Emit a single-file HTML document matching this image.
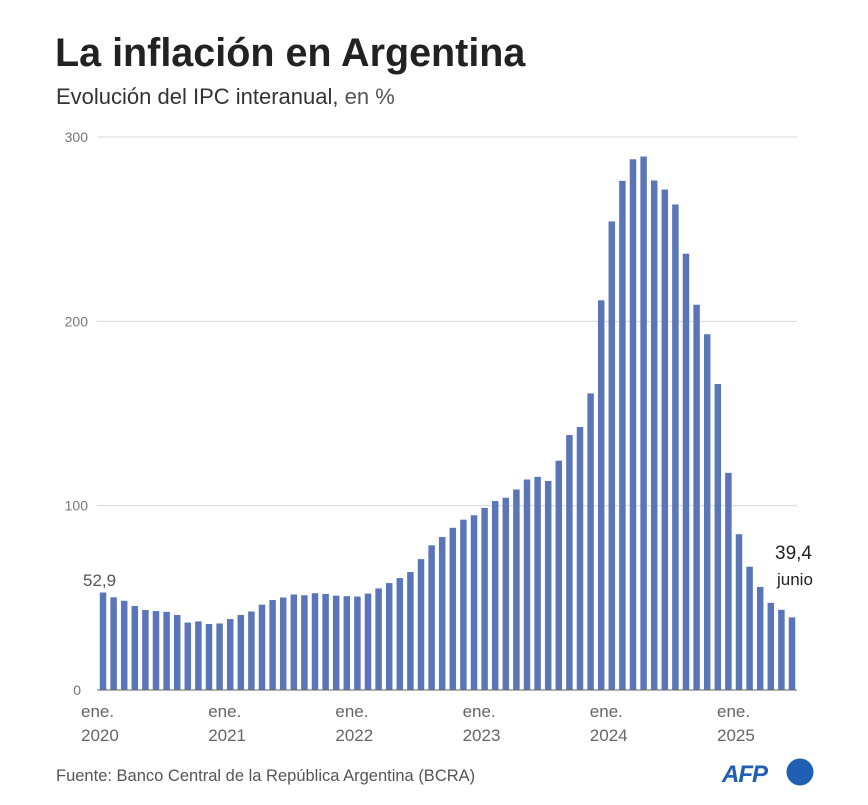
<!DOCTYPE html>
<html><head><meta charset="utf-8">
<style>
body{margin:0;background:#fff;width:868px;height:800px;overflow:hidden;font-family:"Liberation Sans",sans-serif}
</style></head>
<body>
<svg width="868" height="800">
<text x="55" y="66" font-size="39.5" font-weight="bold" fill="#222">La inflación en Argentina</text>
<text x="56" y="104" font-size="22" fill="#333">Evolución del IPC interanual, <tspan fill="#555">en %</tspan></text>
<g id="grid"></g>
<g id="bars"></g>
<g id="xlabels"></g>
<text x="83" y="586" font-size="17" fill="#555">52,9</text>
<text x="775" y="559" font-size="19" fill="#222">39,4</text>
<text x="777" y="585" font-size="17" fill="#222">junio</text>
<text x="56" y="781" font-size="16.5" fill="#555">Fuente: Banco Central de la República Argentina (BCRA)</text>
<g>
<text x="722" y="782" font-size="24" font-weight="bold" font-style="italic" fill="#1f5fb3" letter-spacing="-1">AFP</text>
<circle cx="800" cy="772" r="13.5" fill="#1f5fb3"/>
</g>
</svg>
<script>
const values=[52.9,50.3,48.4,45.6,43.4,42.8,42.4,40.7,36.6,37.2,35.8,36.1,
38.5,40.7,42.6,46.3,48.8,50.2,51.8,51.4,52.5,52.1,51.2,50.9,
50.7,52.3,55.1,58.0,60.7,64.0,71.0,78.5,83.0,88.0,92.4,94.8,
98.8,102.5,104.3,108.8,114.2,115.6,113.4,124.4,138.3,142.7,160.9,211.4,
254.2,276.2,287.9,289.4,276.4,271.5,263.4,236.7,209.0,193.0,166.0,117.8,
84.5,66.9,55.9,47.3,43.5,39.4];
const yTicks=[0,100,200,300];
const xLabels=["2020","2021","2022","2023","2024","2025"];
const NS="http://www.w3.org/2000/svg";
const y0=690,yTop=137,x0=103,step=10.6,bw=6.5;
const y=v=>y0-(y0-yTop)*v/300;
const x=i=>x0+i*step;
const grid=document.getElementById('grid'),bars=document.getElementById('bars'),xl=document.getElementById('xlabels');
yTicks.forEach(t=>{
 if(t>0){const l=document.createElementNS(NS,'line');
 l.setAttribute('x1',97);l.setAttribute('x2',797);l.setAttribute('y1',y(t));l.setAttribute('y2',y(t));
 l.setAttribute('stroke','#d8d8d8');l.setAttribute('stroke-width','1');
 
 
 grid.appendChild(l);}
 const tx=document.createElementNS(NS,'text');
 tx.setAttribute('x',t===0?81:88);tx.setAttribute('y',y(t)+5);tx.setAttribute('text-anchor','end');
 tx.setAttribute('font-size','14');tx.setAttribute('fill','#777');tx.textContent=t;
 
 
 grid.appendChild(tx);
});
values.forEach((v,i)=>{
 const r=document.createElementNS(NS,'rect');
 r.setAttribute('x',x(i)-bw/2);r.setAttribute('y',y(v));r.setAttribute('width',bw);r.setAttribute('height',y0-y(v));
 r.setAttribute('fill','#5b76b8');
 
 
 bars.appendChild(r);
});
const base=document.createElementNS(NS,'line');
base.setAttribute('x1',97);base.setAttribute('x2',797);base.setAttribute('y1',y0);base.setAttribute('y2',y0);
base.setAttribute('stroke','#666');base.setAttribute('stroke-width','1');


bars.appendChild(base);
xLabels.forEach((lab,k)=>{
 const cx=x(k*12);
 const t=document.createElementNS(NS,'text');
 t.setAttribute('x',cx-22);t.setAttribute('y',717);t.setAttribute('font-size','17');t.setAttribute('fill','#666');
 t.innerHTML='<tspan x="'+(cx-22)+'">ene.</tspan><tspan x="'+(cx-22)+'" dy="24">'+lab+'</tspan>';
 
 
 xl.appendChild(t);
});
</script>
</body></html>
